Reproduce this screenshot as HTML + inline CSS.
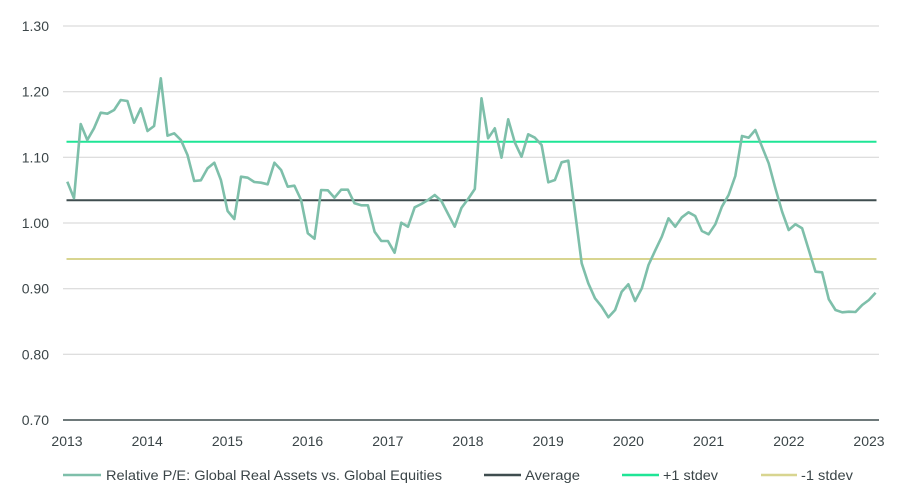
<!DOCTYPE html>
<html>
<head>
<meta charset="utf-8">
<style>
  html,body{margin:0;padding:0;background:#fff;}
  svg{display:block;}
  text{font-family:"Liberation Sans",Arial,sans-serif;fill:#3b4548;font-size:14px;}
</style>
</head>
<body>
<svg width="900" height="500" viewBox="0 0 900 500" xmlns="http://www.w3.org/2000/svg">
  <!-- gridlines -->
  <g stroke="#d3d3d3" stroke-width="1">
    <line x1="63" y1="26" x2="879" y2="26"/>
    <line x1="63" y1="91.7" x2="879" y2="91.7"/>
    <line x1="63" y1="157.3" x2="879" y2="157.3"/>
    <line x1="63" y1="223" x2="879" y2="223"/>
    <line x1="63" y1="288.7" x2="879" y2="288.7"/>
    <line x1="63" y1="354.3" x2="879" y2="354.3"/>
  </g>
  <line x1="63" y1="420" x2="879" y2="420" stroke="#3f4d4f" stroke-width="1.5"/>

  <!-- y labels -->
  <g text-anchor="end">
    <text x="49" y="31">1.30</text>
    <text x="49" y="96.7">1.20</text>
    <text x="49" y="162.3">1.10</text>
    <text x="49" y="228">1.00</text>
    <text x="49" y="293.7">0.90</text>
    <text x="49" y="359.3">0.80</text>
    <text x="49" y="425">0.70</text>
  </g>
  <!-- x labels -->
  <g text-anchor="middle">
    <text x="67" y="446">2013</text>
    <text x="147.2" y="446">2014</text>
    <text x="227.4" y="446">2015</text>
    <text x="307.6" y="446">2016</text>
    <text x="387.8" y="446">2017</text>
    <text x="468" y="446">2018</text>
    <text x="548.2" y="446">2019</text>
    <text x="628.4" y="446">2020</text>
    <text x="708.6" y="446">2021</text>
    <text x="788.8" y="446">2022</text>
    <text x="869" y="446">2023</text>
  </g>

  <!-- reference lines -->
  <line x1="66.5" y1="259" x2="876.5" y2="259" stroke="#d8d590" stroke-width="2"/>
  <line x1="66.5" y1="141.7" x2="876.5" y2="141.7" stroke="#1fe596" stroke-width="2"/>
  <line x1="66.5" y1="200.3" x2="876.5" y2="200.3" stroke="#3f4d4f" stroke-width="2"/>

  <!-- series -->
  <polyline fill="none" stroke="#7ebfaa" stroke-width="2.6" stroke-linejoin="round" points="
67.3,181.7 74.0,198.3 80.7,124 87.3,140 94.0,128.3 100.7,112.7 107.4,113.7 114.1,110 120.7,100 127.4,101
134.1,122.7 140.8,108.3 147.5,131 154.1,126 160.8,78.3 167.5,135.7 174.2,133.3 180.9,140 187.5,155 194.2,181
200.9,180.3 207.6,168.3 214.3,162.7 220.9,180 227.6,211 234.3,219 241.0,176.7 247.7,177.7 254.3,182 261.0,182.7
267.7,184.3 274.4,162.7 281.1,170 287.7,186.7 294.4,185.7 301.1,200 307.8,233.3 314.5,238.7 321.1,190 327.8,190.3
334.5,197.7 341.2,189.7 347.9,189.7 354.5,203.3 361.2,205.3 367.9,205.3 374.6,231.7 381.3,241 387.9,241 394.6,252.7
401.3,222.7 408.0,226.7 414.7,207.3 421.3,204 428.0,200 434.7,195 441.4,201 448.1,214 454.7,226.7 461.4,208
468.1,199 474.8,189 481.5,98.3 488.1,138.3 494.8,128.3 501.5,157.7 508.2,119.3 514.9,142.7 521.5,156.7 528.2,134.3
534.9,137.7 541.6,145 548.3,182.3 554.9,180 561.6,162.3 568.3,160.7 575.0,211.7 581.7,263.3 588.3,283.3 595.0,298.3
601.7,306.7 608.4,317.3 615.1,310 621.7,291.7 628.4,284.3 635.1,301 641.8,288.3 648.5,265 655.1,250.7 661.8,236.7
668.5,218.3 675.2,226.7 681.9,217.3 688.5,212.3 695.2,216 701.9,231 708.6,234.3 715.3,224.3 721.9,206.7 728.6,195
735.3,176 742.0,136 748.7,137.7 755.3,130 762.0,146.7 768.7,163.3 775.4,188.3 782.1,211.7 788.7,230 795.4,224.3
802.1,228.3 808.8,250 815.5,271.7 822.1,272.3 828.8,299.3 835.5,310 842.2,312.3 848.9,311.7 855.5,312 862.2,305
868.9,300 875.6,292.7"/>

  <!-- legend -->
  <line x1="63" y1="475" x2="101" y2="475" stroke="#7ebfaa" stroke-width="2.6"/>
  <text x="106" y="480" textLength="336" lengthAdjust="spacingAndGlyphs">Relative P/E: Global Real Assets vs. Global Equities</text>
  <line x1="484" y1="475" x2="521" y2="475" stroke="#3f4d4f" stroke-width="2.6"/>
  <text x="525" y="480" textLength="55" lengthAdjust="spacingAndGlyphs">Average</text>
  <line x1="622" y1="475" x2="659" y2="475" stroke="#1fe596" stroke-width="2.6"/>
  <text x="663" y="480" textLength="55" lengthAdjust="spacingAndGlyphs">+1 stdev</text>
  <line x1="761" y1="475" x2="797" y2="475" stroke="#d8d590" stroke-width="2.6"/>
  <text x="801" y="480" textLength="52" lengthAdjust="spacingAndGlyphs">-1 stdev</text>
</svg>
</body>
</html>
